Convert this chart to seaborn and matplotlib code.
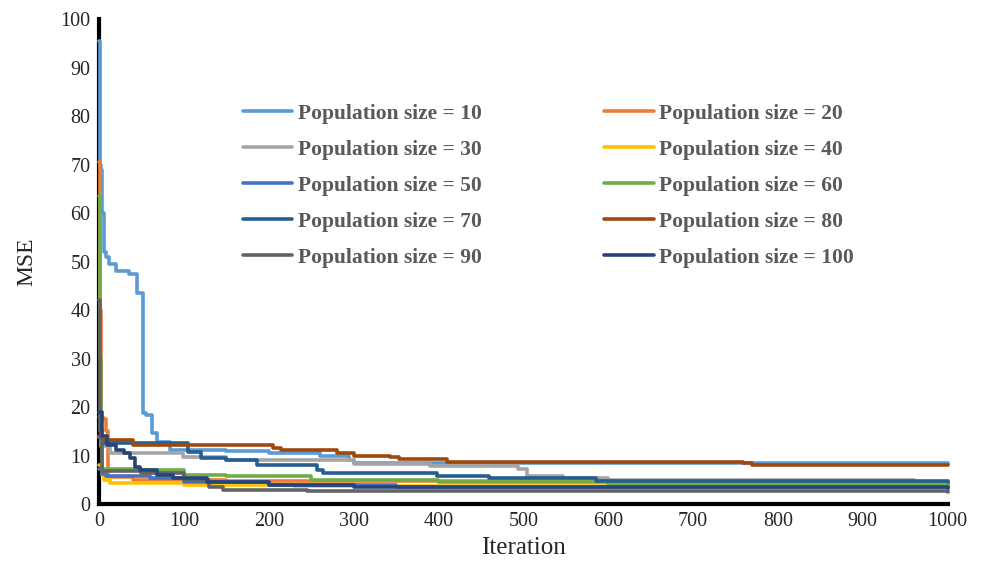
import matplotlib
matplotlib.use('Agg')
import matplotlib.pyplot as plt
import seaborn as sns
import pandas as pd

# Step breakpoints (iteration, MSE)
labels = ['Population size = 10', 'Population size = 20', 'Population size = 30',
          'Population size = 40', 'Population size = 50', 'Population size = 60',
          'Population size = 70', 'Population size = 80', 'Population size = 90',
          'Population size = 100']

colors = ['#5B9BD5', '#ED7D31', '#A5A5A5', '#FFC000', '#4472C4',
          '#70AD47', '#255E91', '#9E480E', '#636363', '#264478']

iter_10 = [0, 1, 2, 4, 6, 8, 12, 20, 35, 45, 52, 55, 63, 68, 81, 84, 150, 200, 260, 295, 300, 1000]
mse_10 = [95.5, 70, 69, 60, 52, 51, 49.5, 48, 47.5, 43.5, 18.8, 18.3, 14.6, 12.8, 12.8, 11.2, 11, 10.5, 10, 9, 8.4, 8.2]

iter_20 = [0, 1, 2, 5, 8, 11, 40, 150, 600, 1000]
mse_20 = [70.5, 40, 18, 17.5, 15, 5.5, 5.0, 4.8, 4.3, 4.1]

iter_30 = [0, 2, 13, 99, 150, 300, 390, 494, 504, 547, 600, 960, 1000]
mse_30 = [13.8, 12, 10.5, 9.7, 9, 8.2, 7.9, 7.2, 5.8, 5.4, 5.0, 4.5, 4.4]

iter_40 = [0, 3, 6, 13, 100, 230, 400, 1000]
mse_40 = [8, 6, 5, 4.3, 4.0, 3.8, 3.7, 3.6]

iter_50 = [0, 3, 8, 60, 100, 200, 350, 1000]
mse_50 = [7.2, 6.2, 5.8, 5.4, 4.6, 4.0, 3.6, 3.4]

iter_60 = [0, 1, 2, 4, 50, 100, 150, 250, 400, 600, 1000]
mse_60 = [63.5, 30, 12, 7.3, 7, 6, 5.7, 5, 4.5, 4.2, 4.0]

iter_70 = [0, 2, 5, 105, 120, 150, 186, 257, 264, 343, 398, 460, 586, 1000]
mse_70 = [18, 13.5, 12.6, 10.8, 9.5, 9.1, 8.0, 7.0, 6.4, 6.4, 5.8, 5.4, 4.8, 4.6]

iter_80 = [0, 2, 5, 40, 205, 215, 280, 300, 343, 354, 410, 759, 770, 1000]
mse_80 = [14, 13.5, 13.2, 12.2, 11.6, 11.2, 10.5, 9.9, 9.7, 9.3, 8.7, 8.5, 8.1, 8.1]

iter_90 = [0, 1, 3, 50, 100, 130, 146, 245, 1000]
mse_90 = [42, 15, 6.9, 6.5, 5, 3.6, 2.9, 2.6, 2.5]

iter_100 = [0, 3, 10, 20, 30, 37, 42, 48, 68, 87, 127, 200, 300, 1000]
mse_100 = [19, 14, 12.2, 11.2, 10.5, 9.5, 7.6, 7, 6, 5.4, 4.6, 4, 3.6, 3.3]

all_iters = [iter_10, iter_20, iter_30, iter_40, iter_50,
             iter_60, iter_70, iter_80, iter_90, iter_100]
all_mse = [mse_10, mse_20, mse_30, mse_40, mse_50,
           mse_60, mse_70, mse_80, mse_90, mse_100]

sns.set_style('white')
plt.rcParams['font.family'] = ['Liberation Serif', 'DejaVu Serif']

fig = plt.figure(figsize=(9.84, 5.79), dpi=100)
ax = fig.add_axes([0.1006, 0.1295, 0.8624, 0.837])

for lab, col, xs, ys in zip(labels, colors, all_iters, all_mse):
    df = pd.DataFrame({'Iteration': xs, 'MSE': ys})
    sns.lineplot(data=df, x='Iteration', y='MSE', ax=ax, color=col,
                 linewidth=2.6, drawstyle='steps-post', label=lab,
                 zorder=3, clip_on=False)

ax.set_xlim(0, 1000)
ax.set_ylim(0, 100)
ax.set_xticks(range(0, 1001, 100))
ax.set_yticks(range(0, 101, 10))
ax.tick_params(axis='both', labelsize=14.5, length=0, pad=6)
ax.set_xlabel('Iteration', fontsize=18, labelpad=4)
ax.set_ylabel('MSE', fontsize=17, labelpad=17)

for s in ['top', 'right']:
    ax.spines[s].set_visible(False)
for s in ['left', 'bottom']:
    ax.spines[s].set_linewidth(3)
    ax.spines[s].set_color('black')

# legend filled row by row like the original (10, 20 / 30, 40 / ...)
handles, labs = ax.get_legend_handles_labels()
order = [0, 2, 4, 6, 8, 1, 3, 5, 7, 9]
leg = ax.legend([handles[i] for i in order], [labs[i] for i in order],
                loc='upper left', bbox_to_anchor=(0.1696, 0.826), ncol=2,
                frameon=False, handlelength=2.3, columnspacing=5.7,
                labelspacing=0.74, handletextpad=0.25, borderpad=0,
                borderaxespad=0, prop={'weight': 'bold', 'size': 15.5})
for t in leg.get_texts():
    t.set_color('#595959')

plt.savefig('out.png', dpi=100)
